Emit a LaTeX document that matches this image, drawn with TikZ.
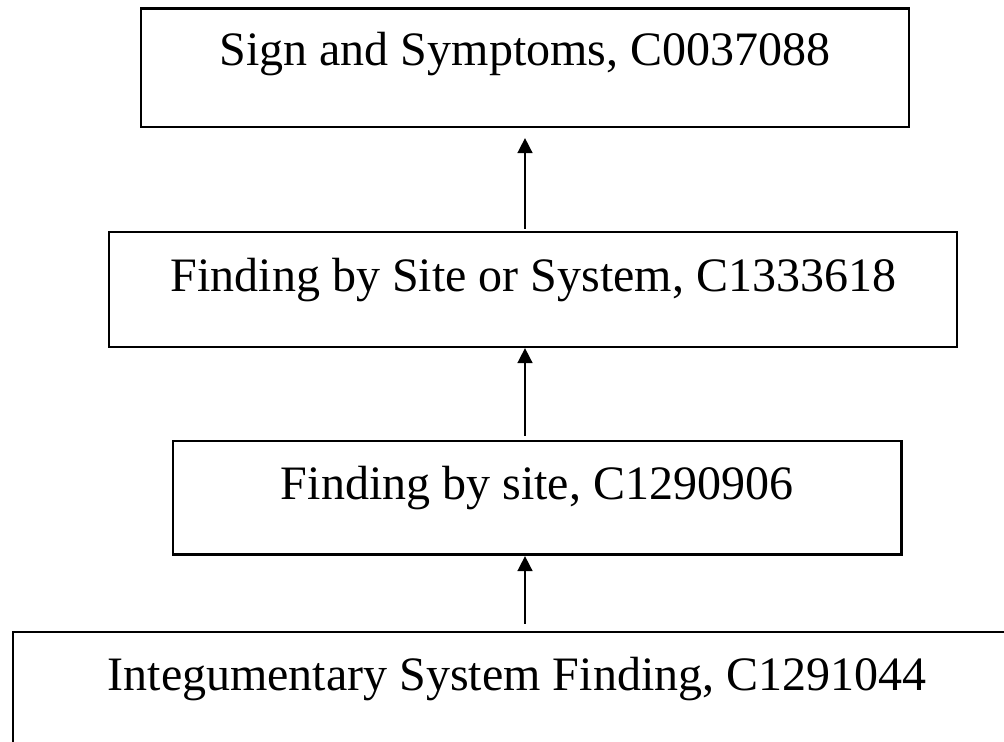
\documentclass[tikz,border=0pt]{standalone}
\usepackage{fontspec}
\setmainfont{Liberation Serif}
\usetikzlibrary{arrows.meta,calc}
\begin{document}
\begin{tikzpicture}[x=0.5pt,y=-0.5pt,
  box/.style={draw=black, line width=1.1pt, rectangle, inner sep=0pt, anchor=center},
  lbl/.style={anchor=base, inner sep=0pt, font=\fontsize{24pt}{28pt}\selectfont},
  arr/.style={line width=0.8pt, -{Triangle[length=7.5pt,width=7.5pt]}}]
\useasboundingbox (0,0) rectangle (1004,741);
\clip (0,0) rectangle (1004,741);
\fill[white] (0,0) rectangle (1004,741);
\coordinate (ax) at (525,0);
% boxes
\node[box, minimum width=384pt, minimum height=59.25pt] (b1) at (525,67.75) {};
\node[box, minimum width=424pt, minimum height=57.5pt] (b2) at (533,289.5) {};
\node[box, minimum width=364.25pt, minimum height=56.75pt] (b3) at (537.25,497.75) {};
\node[box, minimum width=503.5pt, minimum height=84pt] (b4) at (516.5,716) {};
% labels
\node[lbl] (t1) at (525,65) {Sign and Symptoms, C0037088};
\node[lbl] (t2) at (533.4,291) {Finding by Site or System, C1333618};
\node[lbl] (t3) at (537,499) {Finding by site, C1290906};
\node[lbl] (t4) at (517,690) {Integumentary System Finding, C1291044};
% connectors
\draw[arr] ($(b2.north -| ax)+(0,-2)$) -- ($(b1.south -| ax)+(0,10)$);
\draw[arr] ($(b3.north -| ax)+(0,-4)$) -- (b2.south -| ax);
\draw[arr] ($(b4.north -| ax)+(0,-7)$) -- ($(b3.south -| ax)+(0,0.5)$);
\end{tikzpicture}
\end{document}
